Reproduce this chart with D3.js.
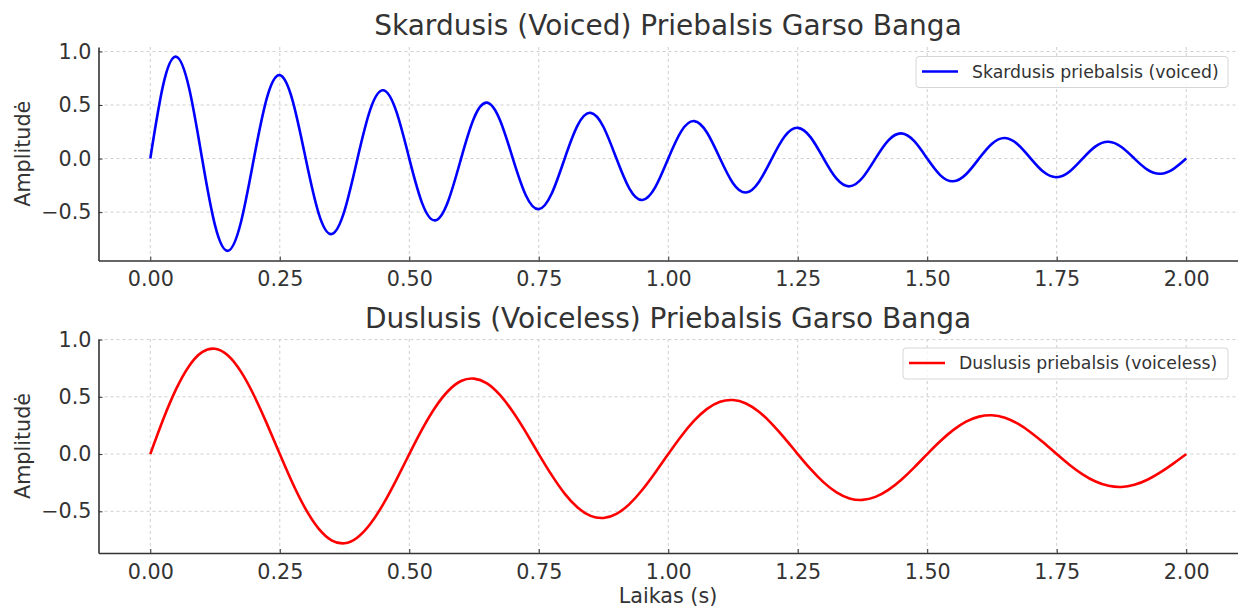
<!DOCTYPE html>
<html>
<head>
<meta charset="utf-8">
<script src="https://cdn.jsdelivr.net/npm/d3@7"></script>
<style>
  html, body { margin: 0; padding: 0; background: #fff; }
  svg { display: block; font-family: "DejaVu Sans", sans-serif; }
</style>
</head>
<body>
<svg id="chart" width="1238" height="607"></svg>
<script>
// Time samples (s), step 0.025
const timeStart = 0;
const timeStep = 0.025;

// Voiced consonant amplitude
const voicedValues = [
  0, 0.690, 0.951, 0.656, 0, -0.624, -0.861, -0.594,
  0, 0.565, 0.779, 0.537, 0, -0.511, -0.705, -0.486,
  0, 0.462, 0.638, 0.440, 0, -0.418, -0.577, -0.398,
  0, 0.379, 0.522, 0.360, 0, -0.342, -0.472, -0.326,
  0, 0.310, 0.427, 0.295, 0, -0.280, -0.387, -0.267,
  0, 0.254, 0.350, 0.241, 0, -0.230, -0.317, -0.218,
  0, 0.208, 0.287, 0.198, 0, -0.188, -0.259, -0.179,
  0, 0.170, 0.235, 0.162, 0, -0.154, -0.212, -0.146,
  0, 0.139, 0.192, 0.132, 0, -0.126, -0.174, -0.120,
  0, 0.114, 0.157, 0.108, 0, -0.103, -0.142, -0.098,
  0
];

// Voiceless consonant amplitude
const voicelessValues = [
  0, 0.304, 0.569, 0.770, 0.890, 0.920, 0.861, 0.720, 0.514, 0.266,
  0, -0.257, -0.481, -0.651, -0.753, -0.779, -0.728, -0.609, -0.435, -0.225,
  0, 0.218, 0.407, 0.551, 0.638, 0.659, 0.617, 0.516, 0.369, 0.191,
  0, -0.184, -0.345, -0.467, -0.540, -0.558, -0.522, -0.437, -0.312, -0.161,
  0, 0.156, 0.292, 0.395, 0.457, 0.472, 0.442, 0.370, 0.264, 0.137,
  0, -0.132, -0.247, -0.334, -0.387, -0.400, -0.374, -0.313, -0.224, -0.116,
  0, 0.112, 0.209, 0.283, 0.327, 0.339, 0.317, 0.265, 0.189, 0.098,
  0, -0.095, -0.177, -0.240, -0.277, -0.287, -0.268, -0.224, -0.160, -0.083,
  0
];

const xTicks = [0, 0.25, 0.5, 0.75, 1.0, 1.25, 1.5, 1.75, 2.0];
const yTicks = [-0.5, 0, 0.5, 1.0];

const titles = ["Skardusis (Voiced) Priebalsis Garso Banga", "Duslusis (Voiceless) Priebalsis Garso Banga"];
const legendLabels = ["Skardusis priebalsis (voiced)", "Duslusis priebalsis (voiceless)"];
const seriesColors = ["#0000ff", "#ff0000"];
const yLabel = "Amplitudė";
const xLabel = "Laikas (s)";

const svg = d3.select("#chart");
const textColor = "#333333";
const gridColor = "#cfcfcf";
const spineColor = "#333333";
const tickFont = "20.7px";
const labelFont = "20.7px";
const titleFont = "28px";
const legendFont = "17.3px";

function drawPanel(cfg) {
  const values = cfg.values;
  const data = values.map((v, i) => ({ t: timeStart + i * timeStep, v }));
  const tMin = d3.min(data, d => d.t), tMax = d3.max(data, d => d.t);
  const vMin = d3.min(values), vMax = d3.max(values);
  const tPad = (tMax - tMin) * 0.05, vPad = (vMax - vMin) * 0.05;

  const x = d3.scaleLinear().domain([tMin - tPad, tMax + tPad]).range([cfg.left, cfg.right]);
  const y = d3.scaleLinear().domain([vMin - vPad, vMax + vPad]).range([cfg.bottom, cfg.top]);

  const g = svg.append("g");

  // grid
  g.append("g").selectAll("line").data(xTicks).join("line")
    .attr("x1", d => x(d)).attr("x2", d => x(d))
    .attr("y1", cfg.top).attr("y2", cfg.bottom)
    .attr("stroke", gridColor).attr("stroke-width", 1).attr("stroke-dasharray", "3,3");
  g.append("g").selectAll("line").data(yTicks).join("line")
    .attr("x1", cfg.left).attr("x2", cfg.right)
    .attr("y1", d => y(d)).attr("y2", d => y(d))
    .attr("stroke", gridColor).attr("stroke-width", 1).attr("stroke-dasharray", "3,3");

  // line
  const line = d3.line().x(d => x(d.t)).y(d => y(d.v)).curve(d3.curveNatural);
  g.append("path").datum(data)
    .attr("d", line).attr("fill", "none")
    .attr("stroke", cfg.color).attr("stroke-width", 2.6)
    .attr("stroke-linejoin", "round").attr("stroke-linecap", "butt");

  // axes (inward ticks)
  const xAxis = d3.axisBottom(x).tickValues(xTicks).tickFormat(d3.format(".2f"))
    .tickSizeInner(-4).tickSizeOuter(0).tickPadding(11);
  const gx = g.append("g").attr("transform", `translate(0,${cfg.bottom})`).call(xAxis);
  gx.select(".domain").attr("stroke", spineColor).attr("stroke-width", 1.6);
  gx.selectAll(".tick line").attr("stroke", spineColor).attr("stroke-width", 1);
  gx.selectAll(".tick text").attr("fill", textColor).attr("font-size", tickFont)
    .attr("font-family", "DejaVu Sans");

  const yAxis = d3.axisLeft(y).tickValues(yTicks).tickFormat(d => d3.format(".1f")(d).replace("-", "\u2212"))
    .tickSizeInner(-4).tickSizeOuter(0).tickPadding(7);
  const gy = g.append("g").attr("transform", `translate(${cfg.left},0)`).call(yAxis);
  gy.select(".domain").attr("stroke", spineColor).attr("stroke-width", 1.6);
  gy.selectAll(".tick line").attr("stroke", spineColor).attr("stroke-width", 1);
  gy.selectAll(".tick text").attr("fill", textColor).attr("font-size", tickFont)
    .attr("font-family", "DejaVu Sans");

  // title
  g.append("text").attr("x", cfg.titleX).attr("y", cfg.titleY)
    .attr("text-anchor", "middle").attr("fill", textColor)
    .attr("font-size", titleFont).text(cfg.title);

  // y label
  g.append("text")
    .attr("transform", `translate(${cfg.yLabelX},${(cfg.top + cfg.bottom) / 2}) rotate(-90)`)
    .attr("text-anchor", "middle").attr("fill", textColor)
    .attr("font-size", labelFont).text(yLabel);

  // legend
  const lg = g.append("g");
  lg.append("rect")
    .attr("x", cfg.legX).attr("y", cfg.legY).attr("width", cfg.legW).attr("height", 31)
    .attr("rx", 3).attr("fill", "rgba(255,255,255,0.8)")
    .attr("stroke", "#d6d6d6").attr("stroke-width", 1);
  lg.append("line")
    .attr("x1", cfg.legX + 6).attr("x2", cfg.legX + 42)
    .attr("y1", cfg.legY + 15).attr("y2", cfg.legY + 15)
    .attr("stroke", cfg.color).attr("stroke-width", 2.6);
  lg.append("text")
    .attr("x", cfg.legX + 56).attr("y", cfg.legY + 21)
    .attr("fill", textColor).attr("font-size", legendFont).text(cfg.legend);
}

drawPanel({
  values: voicedValues, color: seriesColors[0], title: titles[0], legend: legendLabels[0],
  left: 98.5, right: 1238, top: 47, bottom: 260.5,
  titleX: 668, titleY: 35, yLabelX: 30,
  legX: 916, legY: 56.5, legW: 312
});

drawPanel({
  values: voicelessValues, color: seriesColors[1], title: titles[1], legend: legendLabels[1],
  left: 98.5, right: 1238, top: 339, bottom: 553,
  titleX: 668, titleY: 328, yLabelX: 30,
  legX: 903, legY: 348, legW: 325
});

svg.append("text").attr("x", 668).attr("y", 603)
  .attr("text-anchor", "middle").attr("fill", textColor)
  .attr("font-size", labelFont).text(xLabel);
</script>
</body>
</html>
